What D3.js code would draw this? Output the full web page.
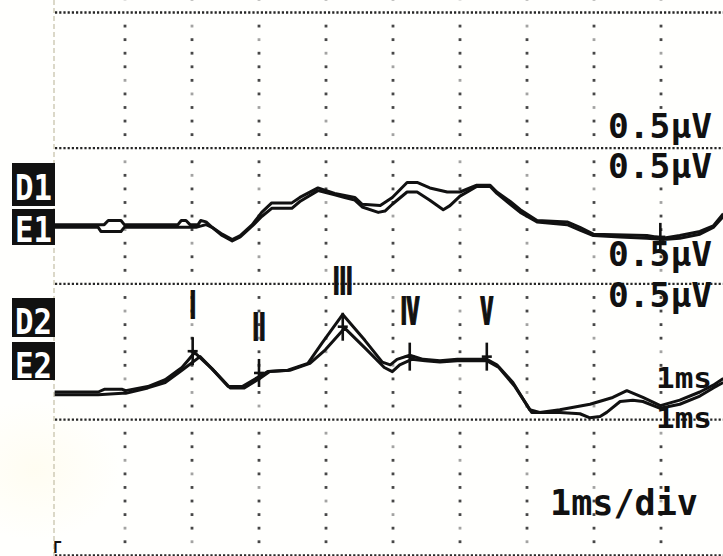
<!DOCTYPE html>
<html><head><meta charset="utf-8">
<script src="https://cdn.jsdelivr.net/npm/d3@7"></script>
<style>html,body{margin:0;padding:0;background:#fffffd;}svg{display:block;}</style>
</head><body>
<svg id="chart" width="723" height="556"></svg>
<script>
// ABR recording: two channels, each an overlaid pair of sweeps. Samples are [ms, µV].
const gridCols = [1, 2, 3, 4, 5, 6, 7, 8, 9];
const gridMajors = [0, 1, 2, 3, 4];

const d1 = [[-0.05,0.01],[0.69,0.01],[0.75,0.04],[0.94,0.04],[0.99,0.01],[1.79,0.01],[1.84,0.04],[1.91,0.04],[1.97,0.01],[2.09,0.01],[2.13,0.04],[2.21,0.03],[2.30,-0.01],[2.45,-0.06],[2.60,-0.10],[2.72,-0.07],[2.90,0.01],[3.04,0.10],[3.19,0.17],[3.49,0.17],[3.61,0.21],[3.88,0.28],[4.13,0.24],[4.43,0.21],[4.54,0.16],[4.81,0.15],[4.99,0.21],[5.21,0.32],[5.36,0.32],[5.55,0.28],[5.81,0.25],[6.00,0.25],[6.25,0.30],[6.45,0.30],[6.55,0.25],[6.75,0.18],[6.90,0.12],[7.15,0.04],[7.60,0.03],[7.79,-0.01],[7.99,-0.06],[8.79,-0.07],[9.03,-0.09],[9.28,-0.07],[9.58,-0.04],[9.78,0.00],[9.93,0.09]];
const e1 = [[-0.05,-0.01],[0.60,-0.01],[0.64,-0.04],[0.94,-0.04],[0.99,-0.01],[1.79,-0.01],[2.06,-0.01],[2.21,0.01],[2.30,-0.01],[2.45,-0.07],[2.60,-0.11],[2.72,-0.08],[2.90,0.00],[3.04,0.07],[3.19,0.13],[3.49,0.13],[3.61,0.18],[3.88,0.26],[4.13,0.23],[4.28,0.21],[4.43,0.19],[4.54,0.14],[4.78,0.10],[4.88,0.11],[4.99,0.16],[5.21,0.25],[5.36,0.25],[5.55,0.19],[5.75,0.12],[5.85,0.15],[6.00,0.22],[6.25,0.29],[6.45,0.29],[6.55,0.24],[6.75,0.16],[6.90,0.10],[7.15,0.03],[7.60,0.01],[7.79,-0.03],[7.99,-0.07],[8.39,-0.08],[8.79,-0.09],[9.03,-0.10],[9.28,-0.09],[9.58,-0.06],[9.78,-0.01],[9.93,0.07]];
const d2 = [[-0.05,0.00],[0.60,0.00],[0.69,0.02],[0.96,0.02],[1.01,0.01],[1.34,0.04],[1.60,0.09],[1.85,0.18],[2.04,0.29],[2.30,0.17],[2.54,0.04],[2.75,0.04],[2.99,0.11],[3.13,0.15],[3.43,0.16],[3.73,0.21],[3.94,0.36],[4.25,0.57],[4.58,0.38],[4.84,0.22],[4.96,0.20],[5.06,0.24],[5.25,0.27],[5.45,0.24],[5.70,0.23],[5.96,0.24],[6.40,0.24],[6.55,0.20],[6.79,0.07],[7.04,-0.13],[7.19,-0.15],[7.49,-0.13],[7.94,-0.09],[8.28,-0.04],[8.49,0.01],[8.73,-0.04],[8.99,-0.10],[9.28,-0.06],[9.58,0.00],[9.78,0.05],[9.93,0.10]];
const e2 = [[-0.05,-0.02],[0.60,-0.02],[0.96,-0.01],[1.01,-0.01],[1.34,0.03],[1.60,0.07],[1.85,0.16],[2.12,0.26],[2.34,0.15],[2.57,0.03],[2.78,0.03],[3.01,0.10],[3.16,0.15],[3.46,0.16],[3.76,0.21],[3.99,0.31],[4.28,0.47],[4.61,0.31],[4.87,0.18],[4.99,0.15],[5.10,0.20],[5.28,0.24],[5.48,0.23],[5.70,0.22],[5.96,0.23],[6.40,0.23],[6.58,0.18],[6.82,0.04],[7.07,-0.15],[7.49,-0.15],[7.79,-0.16],[7.94,-0.19],[8.09,-0.18],[8.19,-0.15],[8.39,-0.07],[8.58,-0.06],[8.73,-0.07],[8.99,-0.12],[9.28,-0.09],[9.58,-0.03],[9.78,0.03],[9.93,0.07]];

// peak labels on channel 2: latency (ms) and amplitude (µV) of each cursor
const waveNames = ["Ⅰ", "Ⅱ", "Ⅲ", "Ⅳ", "Ⅴ"];
const waveLatency = [2.01, 3.00, 4.25, 5.25, 6.40];
const waveAmp = [0.30, 0.14, 0.48, 0.26, 0.26];
// end cursor on channel 1
const endCursor = [8.99, -0.08];

const channelNames = [["D1", "E1"], ["D2", "E2"]];
const sensLabels = ["0.5μV", "0.5μV", "0.5μV", "0.5μV"];
const timeLabels = ["1ms", "1ms"];
const sweepLabel = "1ms/div";

const svg = d3.select("#chart");
const W = 723, H = 556;
const ink = "#111";
const mono = "'DejaVu Sans Mono', 'Liberation Mono', monospace";

// paper with a faint warm patch
const defs = svg.append("defs");
const rg = defs.append("radialGradient").attr("id", "tint");
rg.append("stop").attr("offset", "0%").attr("stop-color", "#fff8dc").attr("stop-opacity", 0.35);
rg.append("stop").attr("offset", "100%").attr("stop-color", "#fff8dc").attr("stop-opacity", 0);
svg.append("rect").attr("width", W).attr("height", H).attr("fill", "#fffffd");
svg.append("ellipse").attr("cx", 35).attr("cy", 470).attr("rx", 85).attr("ry", 70).attr("fill", "url(#tint)");

// scales
const x = d3.scaleLinear().domain([0, 10]).range([58, 728]);
const gy = d3.scaleLinear().domain([0, 4]).range([12.5, 555.3]);
const y1 = d3.scaleLinear().domain([0, 1]).range([226, 90]);
const y2 = d3.scaleLinear().domain([0, 1]).range([392, 256]);

// left frame edge
svg.append("line").attr("x1", 54).attr("x2", 54).attr("y1", 0).attr("y2", H)
  .attr("stroke", "#c4bea6").attr("stroke-width", 1.2).attr("stroke-dasharray", "5 3");

// column dots every 0.1 division
const rows = d3.range(-0.1, 4.05, 0.1).filter(v => Math.abs(v - Math.round(v)) > 0.02);
const gDots = svg.append("g").attr("fill", "#333");
gridCols.forEach((c, ci) => {
  rows.forEach((r, ri) => {
    const shade = ((ci * 7 + ri * 3) % 5 === 0) ? 0.45 : 0.9;
    gDots.append("rect").attr("x", x(c) - 1.4).attr("y", gy(r) - 1.4)
      .attr("width", 2.8).attr("height", 2.8).attr("opacity", shade);
  });
});

// dotted horizontal rules
svg.append("g").selectAll("line").data(gridMajors).join("line")
  .attr("x1", 55).attr("x2", W).attr("y1", d => gy(d)).attr("y2", d => gy(d))
  .attr("stroke", "#262626").attr("stroke-width", 2.3).attr("stroke-dasharray", "2.2 2");

// traces
const line1 = d3.line().x(d => x(d[0])).y(d => y1(d[1]));
const line2 = d3.line().x(d => x(d[0])).y(d => y2(d[1]));
const gT = svg.append("g").attr("fill", "none").attr("stroke", ink)
  .attr("stroke-width", 3).attr("stroke-linejoin", "round");
gT.append("path").attr("d", line1(e1));
gT.append("path").attr("d", line1(d1));
gT.append("path").attr("d", line2(e2));
gT.append("path").attr("d", line2(d2));

// cursors
function cross(g, cx, cy) {
  g.append("line").attr("x1", cx).attr("x2", cx).attr("y1", cy - 14).attr("y2", cy + 14);
  g.append("line").attr("x1", cx - 5).attr("x2", cx + 5).attr("y1", cy).attr("y2", cy);
}
const gC = svg.append("g").attr("stroke", ink).attr("stroke-width", 2.6);
waveNames.forEach((n, i) => cross(gC, x(waveLatency[i]), y2(waveAmp[i])));
cross(gC, x(endCursor[0]), y1(endCursor[1]));

// roman numeral wave labels
waveNames.forEach((n, i) => {
  const cx = x(waveLatency[i]), cy = y2(waveAmp[i]) - 14 - 19;
  svg.append("text").attr("transform", `translate(${cx},${cy}) scale(0.6,1.15)`)
    .attr("text-anchor", "middle").attr("font-family", "'Noto Sans CJK JP', 'Noto Sans CJK SC', sans-serif")
    .attr("font-weight", 900).attr("font-size", 31).attr("fill", ink)
    .attr("stroke", ink).attr("stroke-width", 1.6).text(n);
});

// channel tags in reverse video
const tagBoxes = [[163, 43], [209, 36], [298, 39], [342, 38]];
const tagBase = [200, 242, 334, 378];
channelNames.flat().forEach((n, i) => {
  const [ty, th] = tagBoxes[i];
  svg.append("rect").attr("x", 12).attr("y", ty).attr("width", 43).attr("height", th).attr("fill", ink);
  svg.append("text").attr("x", 15).attr("y", tagBase[i])
    .attr("font-family", mono).attr("font-weight", 700).attr("font-size", 35)
    .attr("textLength", 37).attr("lengthAdjust", "spacingAndGlyphs")
    .attr("fill", "#fff").text(n);
});

// scale readouts on the right
const sensY = [138, 178, 266, 307];
sensLabels.forEach((s, i) => {
  svg.append("text").attr("x", 608).attr("y", sensY[i])
    .attr("font-family", mono).attr("font-weight", 700).attr("font-size", 33)
    .attr("textLength", 104).attr("lengthAdjust", "spacingAndGlyphs").attr("fill", ink).text(s);
});
const timeY = [388, 428];
timeLabels.forEach((s, i) => {
  svg.append("text").attr("x", 656).attr("y", timeY[i])
    .attr("font-family", mono).attr("font-weight", 700).attr("font-size", 29)
    .attr("textLength", 56).attr("lengthAdjust", "spacingAndGlyphs").attr("fill", ink).text(s);
});
svg.append("text").attr("x", 550).attr("y", 515)
  .attr("font-family", mono).attr("font-weight", 700).attr("font-size", 35)
  .attr("textLength", 148).attr("lengthAdjust", "spacingAndGlyphs").attr("fill", ink).text(sweepLabel);

// corner mark
svg.append("text").attr("x", 53).attr("y", 553).attr("font-family", mono).attr("font-weight", 700)
  .attr("font-size", 15).attr("fill", ink).text("Γ");
</script>
</body></html>
